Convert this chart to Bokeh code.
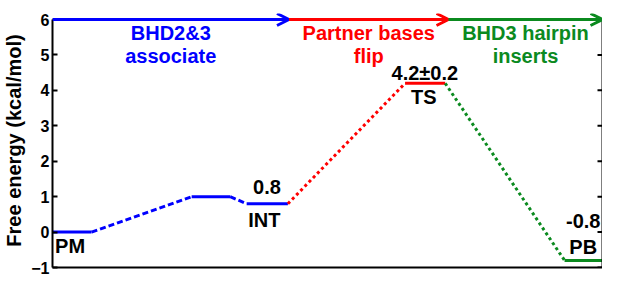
from bokeh.plotting import figure
from bokeh.models import Range1d, LinearAxis, Arrow, OpenHead, FixedTicker
from bokeh.embed import file_html
from bokeh.resources import INLINE
from bokeh.core.properties import value

# ---- data ----
state_names = ["PM", "", "INT", "TS", "PB"]
energy = [0.0, 1.0, 0.8, 4.2, -0.8]
level_start = [0.0, 2.53, 3.53, 6.41, 9.31]
level_end = [0.71, 3.23, 4.28, 7.14, 10.0]
level_color = ["#0000ff", "#0000ff", "#0000ff", "#ff0000", "#0b8a1f"]

# transitions: (from state index, to state index)
trans_from = [0, 1, 2, 3]
trans_to = [1, 2, 3, 4]
trans_color = ["#0000ff", "#0000ff", "#ff0000", "#0b8a1f"]
trans_dash = ["6 3", "6 3", "3 3", "3 3"]

stage_bounds = [0.0, 4.3, 7.2, 10.0]
stage_line1 = ["BHD2&3", "Partner bases", "BHD3 hairpin"]
stage_line2 = ["associate", "flip", "inserts"]
stage_color = ["#0000ff", "#ff0000", "#0b8a1f"]

value_text = ["0.8", "4.2\u00b10.2", "-0.8"]
value_x = [3.9, 6.77, 9.65]
value_y = [1.28, 4.49, 0.30]
name_text = ["PM", "INT", "TS", "PB"]
name_x = [0.32, 3.85, 6.75, 9.65]
name_y = [-0.39, 0.35, 3.81, -0.42]

yticks = [-1, 0, 1, 2, 3, 4, 5, 6]
x_min, x_max = 0.0, 10.0
y_min, y_max = -1.0, 6.0

FONT = "Liberation Sans"

p = figure(width=602, height=276, output_backend="svg", toolbar_location=None,
           x_range=Range1d(x_min, x_max), y_range=Range1d(y_min, y_max + 0.17),
           min_border_top=13, min_border_right=0, min_border_bottom=9, min_border_left=0)
p.grid.visible = False
p.outline_line_color = None
p.background_fill_color = "white"
p.border_fill_color = "white"

# bottom axis: line only
bx = p.xaxis[0]
bx.ticker = FixedTicker(ticks=[])
bx.axis_line_width = 2
bx.axis_line_color = "black"
bx.minor_tick_line_color = None
bx.major_tick_line_color = None
bx.major_tick_in = 0
bx.major_tick_out = 0
bx.major_label_standoff = 0
bx.major_label_text_font_size = "0px"
bx.axis_label_standoff = 0

ax = p.yaxis[0]
ax.ticker = FixedTicker(ticks=yticks)
ax.bounds = (y_min, y_max)
ax.minor_tick_line_color = None
ax.major_tick_in = 5
ax.major_tick_out = 0
ax.major_tick_line_width = 2
ax.axis_line_width = 2
ax.axis_line_color = "black"
ax.major_label_text_font = FONT
ax.major_label_text_font_style = "bold"
ax.major_label_text_font_size = "16px"
ax.major_label_text_color = "black"
ax.major_label_standoff = 3
ax.axis_label = "Free energy (kcal/mol)"
ax.axis_label_text_font = FONT
ax.axis_label_text_font_style = "bold"
ax.axis_label_text_font_size = "20px"
ax.axis_label_text_color = "black"
ax.axis_label_standoff = 3

# right axis: line only, ticks drawn as inward dashes
rax = LinearAxis(ticker=FixedTicker(ticks=[]), bounds=(y_min, y_max))
rax.minor_tick_line_color = None
rax.major_tick_line_color = None
rax.major_tick_in = 0
rax.major_tick_out = 0
rax.major_label_standoff = 0
rax.major_label_text_font_size = "0px"
rax.axis_line_width = 2
rax.axis_line_color = "black"
p.add_layout(rax, "right")
p.scatter(x=[x_max] * len(yticks), y=yticks, marker="dash", size=10,
          line_color="black", line_width=2)

# levels
p.segment(x0=level_start, y0=energy, x1=level_end, y1=energy,
          line_color=level_color, line_width=3)

# transitions
for f, t, c, d in zip(trans_from, trans_to, trans_color, trans_dash):
    p.line([level_end[f], level_start[t]], [energy[f], energy[t]],
           line_color=c, line_width=3, line_dash=d)

# stage arrows
for i in range(3):
    p.add_layout(Arrow(end=OpenHead(size=12, line_width=3, line_color=stage_color[i]),
                       x_start=stage_bounds[i], y_start=y_max,
                       x_end=stage_bounds[i + 1], y_end=y_max,
                       line_color=stage_color[i], line_width=3))

mid = [(stage_bounds[i] + stage_bounds[i + 1]) / 2 for i in range(3)]
p.text(x=mid, y=[5.63] * 3, text=stage_line1, text_color=stage_color,
       text_font=value(FONT), text_font_style="bold", text_font_size="20px",
       text_align="center", text_baseline="middle")
p.text(x=mid, y=[4.97] * 3, text=stage_line2, text_color=stage_color,
       text_font=value(FONT), text_font_style="bold", text_font_size="20px",
       text_align="center", text_baseline="middle")

p.text(x=value_x, y=value_y, text=value_text, text_color="black",
       text_font=value(FONT), text_font_style="bold", text_font_size="20px",
       text_align="center", text_baseline="middle")
p.text(x=name_x, y=name_y, text=name_text, text_color="black",
       text_font=value(FONT), text_font_style="bold", text_font_size="20px",
       text_align="center", text_baseline="middle")

open("out.html", "w").write(file_html(p, INLINE))
